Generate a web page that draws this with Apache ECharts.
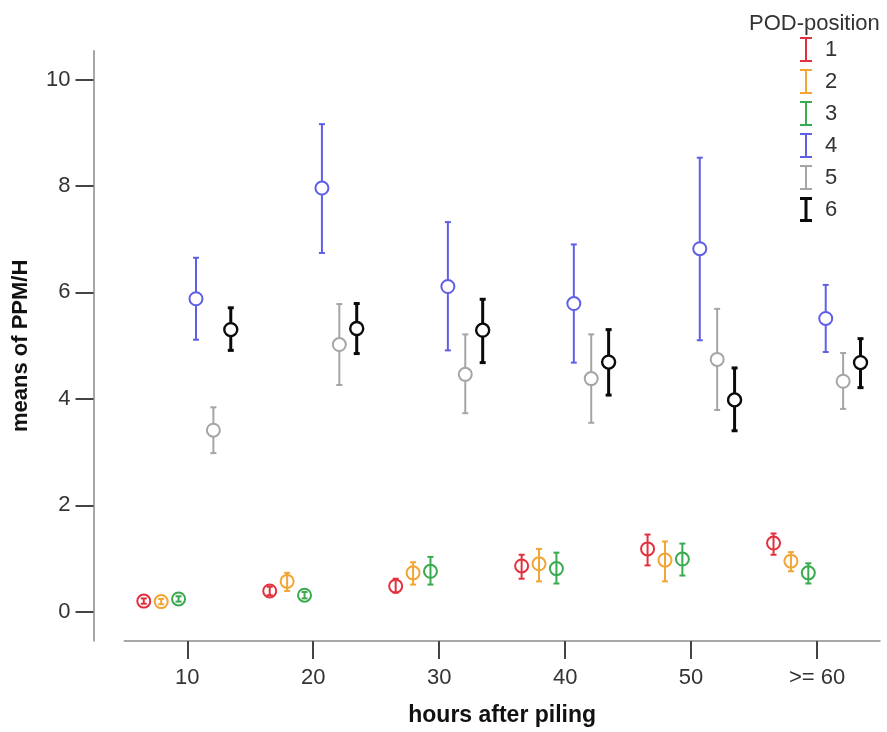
<!DOCTYPE html>
<html>
<head>
<meta charset="utf-8">
<script src="https://cdn.jsdelivr.net/npm/echarts@6/dist/echarts.min.js"></script>
<style>
html,body{margin:0;padding:0;background:#fff;}
#chart{width:887px;height:732px;}
</style>
</head>
<body>
<div id="chart"></div>
<script>
// ---- data ----
const categories = ['10', '20', '30', '40', '50', '>= 60'];
const positions = ['1', '2', '3', '4', '5', '6'];
const yTicks = [0, 2, 4, 6, 8, 10];

const mean1 = [0.20, 0.39, 0.48, 0.86, 1.18, 1.29];
const low1  = [0.15, 0.31, 0.36, 0.62, 0.87, 1.07];
const high1 = [0.25, 0.47, 0.62, 1.07, 1.45, 1.47];

const mean2 = [0.19, 0.57, 0.73, 0.90, 0.97, 0.95];
const low2  = [0.14, 0.39, 0.51, 0.57, 0.57, 0.76];
const high2 = [0.24, 0.73, 0.93, 1.18, 1.32, 1.12];

const mean3 = [0.24, 0.31, 0.76, 0.81, 0.99, 0.73];
const low3  = [0.19, 0.25, 0.51, 0.53, 0.68, 0.53];
const high3 = [0.29, 0.37, 1.03, 1.11, 1.28, 0.91];

const mean4 = [5.88, 7.96, 6.11, 5.79, 6.82, 5.51];
const low4  = [5.11, 6.74, 4.91, 4.68, 5.10, 4.88];
const high4 = [6.65, 9.16, 7.32, 6.90, 8.53, 6.14];

const mean5 = [3.41, 5.02, 4.46, 4.38, 4.74, 4.33];
const low5  = [2.98, 4.26, 3.73, 3.55, 3.79, 3.81];
const high5 = [3.84, 5.78, 5.21, 5.21, 5.69, 4.86];

const mean6 = [5.30, 5.32, 5.29, 4.69, 3.98, 4.68];
const low6  = [4.91, 4.85, 4.68, 4.07, 3.40, 4.21];
const high6 = [5.71, 5.79, 5.87, 5.30, 4.58, 5.13];

const means = [mean1, mean2, mean3, mean4, mean5, mean6];
const lows = [low1, low2, low3, low4, low5, low6];
const highs = [high1, high2, high3, high4, high5, high6];

// ---- styles ----
const colors = ['#e3303e', '#f2a535', '#3aaa4e', '#5f5fe6', '#a5a5a5', '#0a0a0a'];
const barWidths = [2, 2, 2, 2, 2, 3];
const lineThrough = [true, true, true, false, false, false];
const slotPx = 17.4;
const radius = 6.5;
const capHalf = 3;
const FONT = '"Liberation Sans", Arial, sans-serif';

function makeRender(k) {
  return function (params, api) {
    const idx = api.value(0);
    const c = api.coord([idx, api.value(1)]);
    const lo = api.coord([idx, api.value(2)]);
    const hi = api.coord([idx, api.value(3)]);
    const x = c[0] + (k - 2.5) * slotPx;
    const y = c[1];
    const col = colors[k];
    const lw = barWidths[k];
    const st = { stroke: col, lineWidth: lw, fill: null };
    const children = [];
    if (lineThrough[k]) {
      children.push({ type: 'line', shape: { x1: x, y1: hi[1], x2: x, y2: lo[1] }, style: st });
    } else {
      if (hi[1] < y - radius) children.push({ type: 'line', shape: { x1: x, y1: hi[1], x2: x, y2: y - radius }, style: st });
      if (lo[1] > y + radius) children.push({ type: 'line', shape: { x1: x, y1: y + radius, x2: x, y2: lo[1] }, style: st });
    }
    children.push({ type: 'line', shape: { x1: x - capHalf, y1: hi[1], x2: x + capHalf, y2: hi[1] }, style: st });
    children.push({ type: 'line', shape: { x1: x - capHalf, y1: lo[1], x2: x + capHalf, y2: lo[1] }, style: st });
    children.push({ type: 'circle', shape: { cx: x, cy: y, r: radius }, style: { stroke: col, lineWidth: k === 5 ? 2.4 : 2, fill: 'rgba(255,255,255,0)' } });
    return { type: 'group', children: children };
  };
}

const series = positions.map(function (name, k) {
  return {
    name: name,
    type: 'custom',
    itemStyle: { color: colors[k] },
    renderItem: makeRender(k),
    encode: { x: 0, y: 1 },
    clip: false,
    data: categories.map(function (cat, i) { return [i, means[k][i], lows[k][i], highs[k][i]]; })
  };
});

const iconThin = 'path://M0,0h12v2h-12z M5,0h2v25h-2z M0,23h12v2h-12z';
const iconBold = 'path://M0,0h12v3h-12z M4.5,0h3v25h-3z M0,22h12v3h-12z';

const chart = echarts.init(document.getElementById('chart'), null, { renderer: 'canvas' });
chart.setOption({
  backgroundColor: '#ffffff',
  animation: false,
  title: {
    text: 'POD-position',
    left: 744,
    top: 8,
    textStyle: { fontFamily: FONT, fontSize: 22, fontWeight: 'normal', color: '#333' }
  },
  legend: {
    orient: 'vertical',
    left: 795,
    top: 32,
    itemWidth: 12,
    itemHeight: 25,
    itemGap: 7,
    selectedMode: false,
    textStyle: { fontFamily: FONT, fontSize: 22, color: '#333', padding: [0, 0, 0, 8] },
    data: positions.map(function (p, k) { return { name: p, icon: k === 5 ? iconBold : iconThin }; })
  },
  grid: { left: 124.3, right: 7, top: 50.7, bottom: 90.3, containLabel: false },
  xAxis: {
    type: 'category',
    data: categories,
    boundaryGap: true,
    name: 'hours after piling',
    nameLocation: 'middle',
    nameGap: 63,
    nameTextStyle: { fontFamily: FONT, fontSize: 23, fontWeight: 'bold', color: '#111' },
    axisLine: { show: true, onZero: false, lineStyle: { color: '#8a8a8a', width: 1.5 } },
    axisTick: { show: true, alignWithLabel: true, length: 18, lineStyle: { color: '#444', width: 2 } },
    axisLabel: { fontFamily: FONT, fontSize: 22, color: '#333', margin: 26 },
    splitLine: { show: false }
  },
  yAxis: {
    type: 'value',
    min: -0.55,
    max: 10.54,
    offset: 30.8,
    name: 'means of PPM/H',
    nameLocation: 'middle',
    nameGap: 62,
    nameRotate: 90,
    nameTextStyle: { fontFamily: FONT, fontSize: 22, fontWeight: 'bold', color: '#111' },
    axisLine: { show: true, lineStyle: { color: '#8a8a8a', width: 1.5 } },
    axisTick: { show: true, length: 18, customValues: yTicks, lineStyle: { color: '#444', width: 2 } },
    axisLabel: { fontFamily: FONT, fontSize: 22, color: '#333', margin: 23, customValues: yTicks },
    splitLine: { show: false }
  },
  series: series
});
</script>
</body>
</html>
